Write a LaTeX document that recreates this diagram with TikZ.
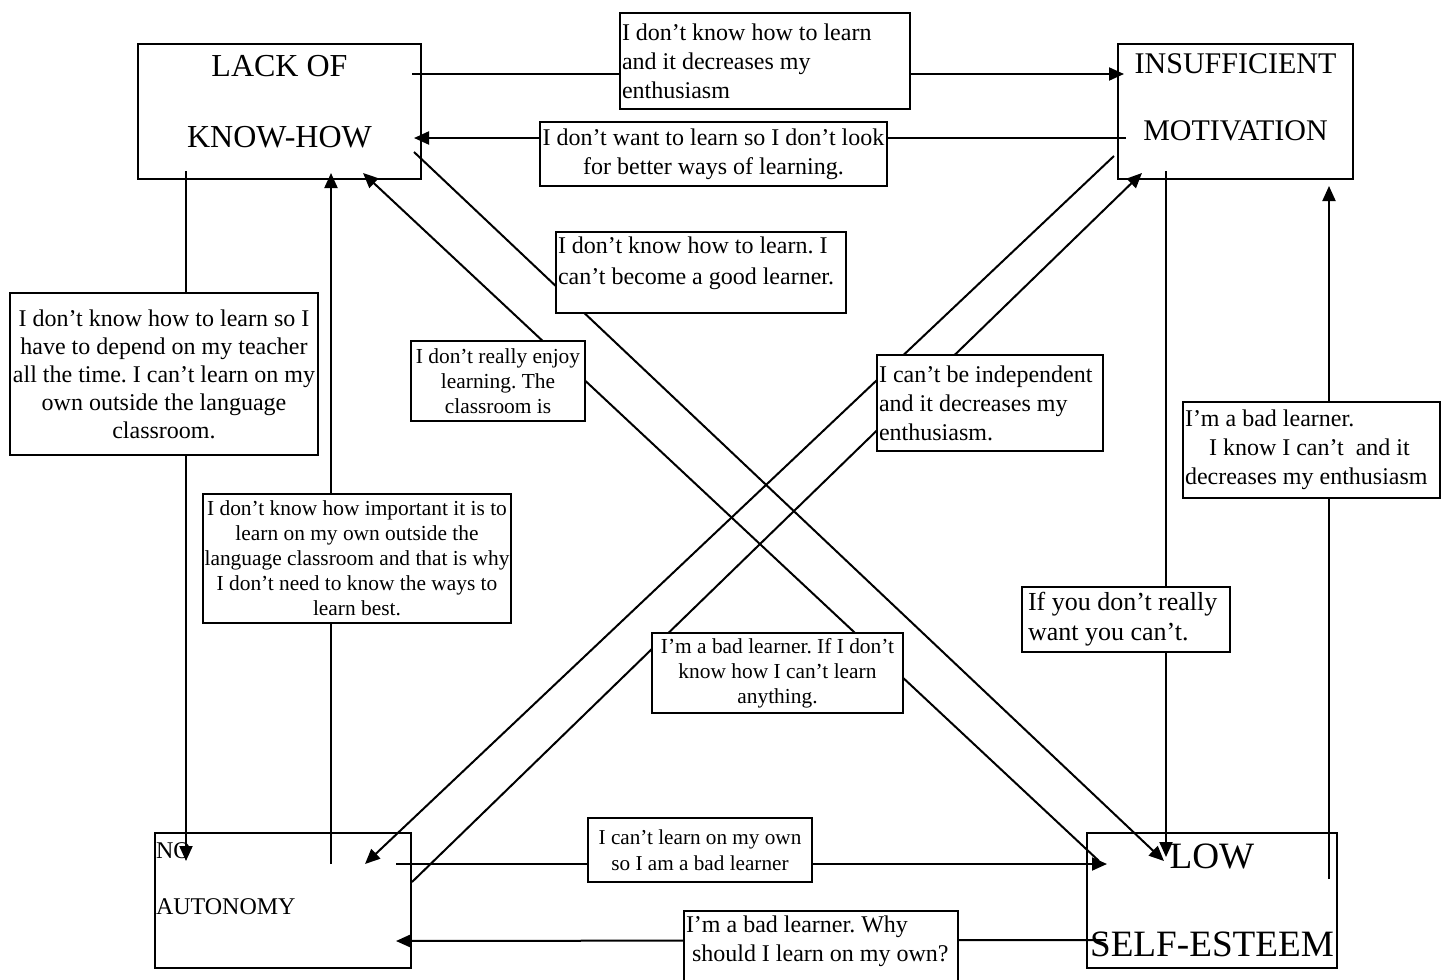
\documentclass[tikz,border=0pt]{standalone}
\usepackage{fontspec}
\setmainfont{Liberation Serif}
\frenchspacing
\usetikzlibrary{arrows.meta,calc}

\begin{document}
\begin{tikzpicture}[x=0.5pt,y=-0.5pt,>={Triangle[length=7.5pt,width=6.5pt]},line width=1pt]
\tikzstyle{bx}=[draw,line width=1pt,minimum height=67.5pt,inner sep=0.5pt]
\tikzstyle{lb}=[draw,fill=white,line width=1pt,inner sep=1pt,font=\fontsize{12}{14.5}\selectfont]
\clip (0,0) rectangle (1447,980);
% the four problems
\node[bx,minimum width=141.5pt,align=center,font=\fontsize{16}{19}\selectfont] (lk) at (279.5,111.5) {LACK OF\\[16.5pt]KNOW-HOW\rule[-10pt]{0pt}{0pt}};
\node[bx,minimum width=117.5pt,align=center,font=\fontsize{15}{18}\selectfont] (mo) at (1235.5,111.5) {INSUFFICIENT\\[15.5pt]MOTIVATION\rule[-14pt]{0pt}{0pt}};
\node[bx,text width=127pt,align=flush left,font=\fontsize{12}{14.5}\selectfont] (au) at (283,900.5) {NO\\[13.5pt]AUTONOMY\rule[-22pt]{0pt}{0pt}};
\node[bx,minimum width=125pt,align=center,font=\fontsize{18.6}{22}\selectfont] (se) at (1212,900.5) {LOW\\[22pt]SELF-ESTEEM};
% links
\draw[->] ($(lk.north east)+(-10,31)$) -- ($(mo.north west)+(7,31)$);
\draw[->] ($(mo.north west)+(9,95)$) -- ($(lk.north east)+(-8,95)$);
\draw[->] ($(lk.north east)+(-8,109)$) -- ($(se.north west)+(78,29)$);
\draw[->] ($(se.north west)+(13,29)$) -- ($(lk.south west)+(226,-7)$);
\draw[->] ($(mo.south west)+(-3,-24)$) -- ($(au.north west)+(211,32)$);
\draw[->] ($(au.north east)+(0,50)$) -- ($(mo.south west)+(25,-7)$);
\draw[->] ($(lk.south west)+(49,-9)$) -- ($(au.north west)+(32,29)$);
\draw[->] ($(au.north west)+(177,32)$) -- ($(lk.south west)+(194,-7)$);
\draw[->] ($(mo.south west)+(49,-9)$) -- ($(se.north west)+(80,25)$);
\draw[->] ($(se.north east)+(-9,47)$) -- ($(mo.south east)+(-25,6)$);
\draw[->] ($(au.north west)+(242,32)$) -- ($(se.north west)+(21,32)$);
\draw[->] ($(se.north west)+(20,108)$) -- ($(au.north west)+(242,109)$);
% thoughts
\node[lb,text width=143pt,minimum height=48pt,align=flush left] (th1) at (765,61) {I don’t know how to learn\\ and it decreases my\\ enthusiasm};
\node[lb,minimum width=173.5pt,minimum height=32pt,align=center] (th2) at (713.5,154) {I don’t want to learn so I don’t look\\ for better ways of learning.};
\node[lb,text width=143pt,minimum height=40.5pt,align=flush left,font=\fontsize{12}{15.5}\selectfont] (th3) at (701,272.5) {I don’t know how to learn. I\\ can’t become a good learner.\rule[-11.5pt]{0pt}{0pt}};
\node[lb,minimum width=154pt,minimum height=81pt,align=center,font=\fontsize{12}{14}\selectfont] (th4) at (164,374) {I don’t know how to learn so I\\ have to depend on my teacher\\ all the time. I can’t learn on my\\ own outside the language\\ classroom.};
\node[lb,minimum width=87pt,minimum height=40pt,align=center,font=\fontsize{10.7}{12.5}\selectfont] (th5) at (498,381) {I don’t really enjoy\\ learning. The\\ classroom is};
\node[lb,text width=111pt,minimum height=48pt,align=flush left] (th6) at (990,403) {I can’t be independent\\ and it decreases my\\ enthusiasm.};
\node[lb,text width=126.5pt,minimum height=48pt,align=flush left] (th7) at (1311.5,450) {I’m a bad learner.\\ \hspace*{12pt}I know I can’t\ \ and it\\ decreases my enthusiasm};
\node[lb,minimum width=154pt,minimum height=64.5pt,align=center,font=\fontsize{10.7}{12.5}\selectfont] (th8) at (357,558.5) {I don’t know how important it is to\\ learn on my own outside the\\ language classroom and that is why\\ I don’t need to know the ways to\\ learn best.};
\node[lb,text width=98pt,inner xsep=3pt,minimum height=32.5pt,align=flush left,font=\fontsize{13}{15}\selectfont] (th9) at (1126,619.5) {If you don’t really\\ want you can’t.};
\node[lb,minimum width=125.5pt,minimum height=40pt,align=center,font=\fontsize{10.7}{12.5}\selectfont] (th10) at (777.5,673) {I’m a bad learner. If I don’t\\ know how I can’t learn\\ anything.};
\node[lb,minimum width=112pt,minimum height=32pt,align=center,font=\fontsize{10.6}{13}\selectfont] (th11) at (700,850) {I can’t learn on my own\\ so I am a bad learner};
\node[lb,anchor=north,text width=135pt,minimum height=50pt,align=flush left] (th12) at (821,910) {I’m a bad learner. Why\\ \hspace*{3pt}should I learn on my own?\rule[-22pt]{0pt}{0pt}};
\end{tikzpicture}
\end{document}
